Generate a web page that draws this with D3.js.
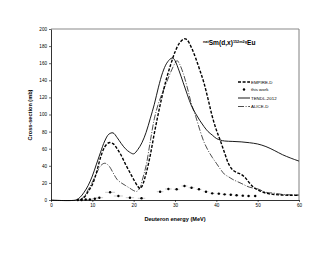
<!DOCTYPE html>
<html>
<head>
<meta charset="utf-8">
<script src="https://cdn.jsdelivr.net/npm/d3@7"></script>
<style>
  body { margin: 0; background: #fff; }
  svg { font-family: "Liberation Sans", Arial, sans-serif; }
</style>
</head>
<body>
<svg id="chart" width="330" height="255"></svg>
<script>
// EMPIRE-D
const empireE = [7, 8, 9, 10, 11, 12, 13, 14, 15, 16, 17, 18, 19, 20, 21, 21.5, 22, 23, 24, 25, 26, 27, 28, 29, 30, 31, 32, 32.5, 33, 34, 35, 36, 37, 38, 39, 40, 41, 42, 43, 44, 45, 46, 47, 48, 49, 50, 52, 54, 56, 58, 60];
const empireV = [0, 3, 10, 18, 32, 50, 62, 67, 66, 60, 52, 42, 33, 24, 16, 13.5, 16, 31, 52, 78, 102, 124, 143, 159, 173, 183, 188, 188.5, 187, 178, 166, 152, 137, 118, 98, 82, 69, 55, 42, 35, 32, 30, 26, 20, 15, 12, 8, 6.5, 5.8, 5.5, 5.5];

// TENDL-2012
const tendlE = [0, 6, 7, 8, 9, 10, 11, 12, 13, 14, 15, 16, 17, 18, 19, 20, 21, 22, 23, 24, 25, 26, 27, 28, 29, 29.5, 30, 31, 32, 33, 34, 35, 36, 37, 38, 39, 40, 41, 42, 44, 46, 48, 50, 52, 54, 56, 58, 60];
const tendlV = [0, 0, 3, 9, 17, 28, 42, 56, 69, 77, 78.5, 73, 66, 60, 56, 54, 59, 67, 79, 95, 112, 132, 149, 160, 165.5, 166, 163, 151, 137, 123, 110, 101, 93, 86, 80, 76, 72, 70, 69, 68.5, 68, 67, 65.5, 62.5, 58, 53, 49, 45.5];

// ALICE-D
const aliceE = [7, 8, 9, 10, 11, 12, 13, 14, 15, 16, 17, 18, 19, 20, 20.7, 21.5, 22, 23, 24, 25, 26, 27, 28, 29, 30, 30.5, 31, 32, 33, 34, 35, 36, 37, 38, 39, 40, 41, 42, 43, 44, 46, 48, 50, 52, 54, 56, 58, 60];
const aliceV = [0, 4, 12, 21, 31, 40, 43, 40, 32, 24, 20, 17, 14, 11, 10, 14, 22, 40, 68, 95, 113, 126, 138, 150, 160, 163, 160, 148, 131, 112, 98, 82, 68, 58, 50, 43, 36, 30, 27, 24, 19.5, 15, 13, 9, 8, 6.5, 6, 5.8];

// this work (measured)
const expE = [6.5, 7.4, 8.4, 9.4, 10.6, 11.7, 14.3, 16.3, 19.1, 21.9, 26.4, 28.4, 30.4, 32.3, 34.0, 35.8, 37.5, 39.0, 40.6, 42.0, 43.5, 44.9, 46.4, 47.8, 49.4];
const expV = [0, 0, 0.5, 0.5, 1.5, 2.7, 9, 4.7, 2.7, 2, 9.7, 12.9, 12.5, 16.4, 14.4, 12.5, 9.7, 7.8, 7.4, 6.6, 6.2, 5.5, 5.1, 4.7, 4.7];
const expErrE = [0.6, 0.6, 0.6, 0.7, 0.8, 0.9, 1.2, 1.1, 1.0, 0.9, 0.8, 0.8, 0.7, 0.7, 0.7, 0.6, 0.6, 0.6, 0.5, 0.5, 0.5, 0.5, 0.4, 0.4, 0.4];

const xTicks = [0, 10, 20, 30, 40, 50, 60];
const yTicks = [0, 20, 40, 60, 80, 100, 120, 140, 160, 180, 200];

const svg = d3.select("#chart");
const plot = { left: 51, right: 299, top: 29, bottom: 200 };

const x = d3.scaleLinear().domain([0, 60]).range([plot.left, plot.right]);
const y = d3.scaleLinear().domain([0, 200]).range([plot.bottom, plot.top]);

// frame (top and right in grey)
svg.append("line").attr("x1", plot.left).attr("x2", plot.right).attr("y1", plot.top).attr("y2", plot.top)
  .attr("stroke", "#b0b0b0").attr("stroke-width", 1.5);
svg.append("line").attr("x1", plot.right).attr("x2", plot.right).attr("y1", plot.top).attr("y2", plot.bottom)
  .attr("stroke", "#808080").attr("stroke-width", 1);

// axes
const xAxis = svg.append("g").attr("transform", `translate(0,${plot.bottom})`)
  .call(d3.axisBottom(x).tickValues(xTicks).tickSize(2).tickSizeOuter(0));
const yAxis = svg.append("g").attr("transform", `translate(${plot.left},0)`)
  .call(d3.axisLeft(y).tickValues(yTicks).tickSize(2).tickSizeOuter(0));
[xAxis, yAxis].forEach(g => {
  g.selectAll("text").attr("font-size", 4.6).attr("fill", "#000").attr("font-family", "Liberation Sans, Arial, sans-serif");
  g.select(".domain").attr("stroke", "#000").attr("stroke-width", 0.8);
  g.selectAll(".tick line").attr("stroke", "#000").attr("stroke-width", 0.6);
});
xAxis.selectAll("text").attr("dy", "0.9em").attr("y", 3);
yAxis.selectAll("text").attr("x", -4);

// axis titles
svg.append("text").attr("x", 175).attr("y", 221).attr("text-anchor", "middle")
  .attr("font-size", 5.6).attr("font-weight", "bold").text("Deuteron energy (MeV)");
svg.append("text").attr("transform", "translate(32,115) rotate(-90)").attr("text-anchor", "middle")
  .attr("font-size", 5.6).attr("font-weight", "bold").text("Cross-section (mb)");

// reaction title
const title = svg.append("text").attr("x", 203).attr("y", 45)
  .attr("font-size", 6.6).attr("font-weight", "bold");
title.append("tspan").attr("font-size", 3.8).attr("dy", -2.2).text("nat");
title.append("tspan").attr("dy", 2.2).text("Sm(d,x)");
title.append("tspan").attr("font-size", 3.8).attr("dy", -2.2).text("152m2g");
title.append("tspan").attr("dy", 2.2).text("Eu");

const line = d3.line().x(d => x(d[0])).y(d => y(d[1])).curve(d3.curveCatmullRom.alpha(0.5));

const series = [
  { name: "EMPIRE-D", E: empireE, V: empireV, width: 1.4, dash: "3,1.6" },
  { name: "TENDL-2012", E: tendlE, V: tendlV, width: 0.9, dash: null },
  { name: "ALICE-D", E: aliceE, V: aliceV, width: 0.7, dash: "6,1.6,1,1.6" }
];

series.forEach(s => {
  svg.append("path")
    .datum(s.E.map((e, i) => [e, s.V[i]]))
    .attr("d", line)
    .attr("fill", "none")
    .attr("stroke", "#000")
    .attr("stroke-width", s.width)
    .attr("stroke-dasharray", s.dash);
});

// measured points with horizontal error bars
const pts = expE.map((e, i) => ({ e: e, v: expV[i], err: expErrE[i] }));
svg.append("g").selectAll("line").data(pts).join("line")
  .attr("x1", d => x(d.e - d.err)).attr("x2", d => x(d.e + d.err))
  .attr("y1", d => y(d.v)).attr("y2", d => y(d.v))
  .attr("stroke", "#999").attr("stroke-width", 0.5);
svg.append("g").selectAll("circle").data(pts).join("circle")
  .attr("cx", d => x(d.e)).attr("cy", d => y(d.v)).attr("r", 1.2).attr("fill", "#000");

// legend
const legendItems = [
  { name: "EMPIRE-D", type: "line", width: 1.4, dash: "3,1.6" },
  { name: "this work", type: "dot" },
  { name: "TENDL-2012", type: "line", width: 0.9, dash: null },
  { name: "ALICE-D", type: "line", width: 0.7, dash: "6,1.6,1,1.6" }
];
const legendY = [82, 89.5, 98, 106.5];
const lg = svg.append("g");
legendItems.forEach((d, i) => {
  const yy = legendY[i];
  if (d.type === "line") {
    lg.append("line").attr("x1", 238).attr("x2", 250).attr("y1", yy).attr("y2", yy)
      .attr("stroke", "#000").attr("stroke-width", d.width).attr("stroke-dasharray", d.dash);
  } else {
    lg.append("circle").attr("cx", 244).attr("cy", yy).attr("r", 1.2).attr("fill", "#000");
  }
  lg.append("text").attr("x", 251).attr("y", yy + 1.6).attr("font-size", 4.4).text(d.name);
});
</script>
</body>
</html>
